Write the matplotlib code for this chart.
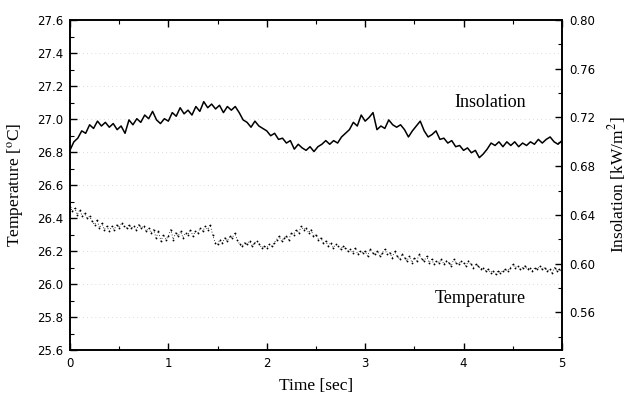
import numpy as np
import matplotlib
matplotlib.use("Agg")
from matplotlib import pyplot as plt
from matplotlib.ticker import MultipleLocator

# Insolation (kW/m2), sampled every 0.04 s
insolation = [
    0.693, 0.700, 0.703, 0.709, 0.707, 0.714, 0.711, 0.717, 0.713, 0.716,
    0.712, 0.715, 0.710, 0.713, 0.707, 0.718, 0.714, 0.719, 0.716, 0.722,
    0.719, 0.725, 0.718, 0.715, 0.719, 0.717, 0.724, 0.721, 0.728, 0.723,
    0.726, 0.722, 0.729, 0.725, 0.733, 0.728, 0.731, 0.727, 0.730, 0.724,
    0.729, 0.726, 0.729, 0.724, 0.718, 0.716, 0.712, 0.717, 0.713, 0.711,
    0.709, 0.705, 0.707, 0.702, 0.703, 0.699, 0.701, 0.694, 0.698, 0.695,
    0.693, 0.696, 0.692, 0.696, 0.698, 0.701, 0.698, 0.701, 0.699, 0.704,
    0.707, 0.710, 0.716, 0.713, 0.722, 0.717, 0.720, 0.724, 0.710, 0.713,
    0.711, 0.718, 0.714, 0.712, 0.714, 0.710, 0.704, 0.709, 0.713, 0.717,
    0.709, 0.704, 0.706, 0.709, 0.702, 0.703, 0.699, 0.701, 0.696, 0.697,
    0.693, 0.695, 0.691, 0.693, 0.687, 0.690, 0.694, 0.699, 0.697, 0.700,
    0.696, 0.700, 0.697, 0.700, 0.696, 0.699, 0.697, 0.700, 0.698, 0.702,
    0.699, 0.702, 0.704, 0.700, 0.698, 0.701,
]
t_ins = np.arange(len(insolation)) * 0.04

# Temperature (deg C), sampled every 0.025 s
temperature = [
    26.47, 26.44, 26.46, 26.42, 26.45, 26.41, 26.43, 26.40,
    26.41, 26.38, 26.36, 26.39, 26.34, 26.37, 26.33, 26.35,
    26.32, 26.35, 26.33, 26.36, 26.34, 26.37, 26.35, 26.34,
    26.36, 26.34, 26.35, 26.33, 26.36, 26.34, 26.35, 26.32,
    26.34, 26.31, 26.33, 26.28, 26.32, 26.26, 26.30, 26.27,
    26.29, 26.33, 26.27, 26.31, 26.29, 26.32, 26.28, 26.31,
    26.30, 26.33, 26.29, 26.32, 26.31, 26.34, 26.32, 26.35,
    26.33, 26.36, 26.30, 26.25, 26.24, 26.27, 26.25, 26.28,
    26.26, 26.29, 26.28, 26.31, 26.27, 26.24, 26.23, 26.25,
    26.24, 26.26, 26.23, 26.25, 26.26, 26.24, 26.22, 26.23,
    26.22, 26.24, 26.23, 26.25, 26.27, 26.29, 26.26, 26.28,
    26.29, 26.27, 26.31, 26.30, 26.33, 26.31, 26.35, 26.33,
    26.34, 26.31, 26.33, 26.29, 26.30, 26.27, 26.28, 26.25,
    26.26, 26.23, 26.25, 26.22, 26.24, 26.23, 26.21, 26.23,
    26.22, 26.20, 26.21, 26.19, 26.22, 26.18, 26.20, 26.19,
    26.20, 26.17, 26.21, 26.19, 26.18, 26.20, 26.17, 26.19,
    26.21, 26.18, 26.19, 26.16, 26.20, 26.17, 26.15, 26.18,
    26.16, 26.14, 26.17, 26.13, 26.16, 26.14, 26.18, 26.15,
    26.14, 26.17, 26.13, 26.15, 26.12, 26.14, 26.13, 26.15,
    26.12, 26.14, 26.13, 26.11, 26.15, 26.13, 26.12, 26.14,
    26.13, 26.11, 26.14, 26.12, 26.10, 26.12, 26.11, 26.09,
    26.10, 26.08, 26.09, 26.07, 26.08, 26.06, 26.08, 26.07,
    26.08, 26.09, 26.08, 26.10, 26.12, 26.10, 26.11, 26.09,
    26.10, 26.11, 26.09, 26.10, 26.08, 26.10, 26.09, 26.11,
    26.09, 26.10, 26.08, 26.09, 26.07, 26.10, 26.08, 26.09,
    26.07,
]
t_temp = np.arange(len(temperature)) * 0.025

plt.rcParams["mathtext.fontset"] = "stix"
serif = "Liberation Serif"
sans = "DejaVu Sans"

fig = plt.figure(figsize=(6.3, 4.01), dpi=100)
ax = fig.add_axes([0.111, 0.127, 0.781, 0.823])
ax2 = ax.twinx()

# faint dotted grid at temperature ticks
for y in np.arange(25.8, 27.5, 0.2):
    ax.axhline(y, color="#d0d0d0", lw=0.6, ls=(0, (1, 4)), zorder=0)

ax.plot(t_temp, temperature, color="black", ls="none", marker="o", ms=1.3,
        mew=0)
ax.plot(t_temp, temperature, color="black", lw=0.6, ls=(0, (1, 2.5)))
ax2.plot(t_ins, insolation, color="black", lw=1.1)

ax.set_xlim(0, 5)
ax.set_ylim(25.6, 27.6)
ax2.set_ylim(0.529, 0.80)

ax.xaxis.set_major_locator(MultipleLocator(1))
ax.xaxis.set_minor_locator(MultipleLocator(0.5))
ax.yaxis.set_major_locator(MultipleLocator(0.2))
ax.yaxis.set_minor_locator(MultipleLocator(0.1))
ax2.yaxis.set_major_locator(MultipleLocator(0.04))
ax2.yaxis.set_minor_locator(MultipleLocator(0.02))
ax.yaxis.set_major_formatter(plt.FormatStrFormatter("%.1f"))
ax2.yaxis.set_major_formatter(plt.FormatStrFormatter("%.2f"))

ax.tick_params(axis="x", which="both", direction="in", top=True, bottom=True)
ax.tick_params(axis="y", which="both", direction="in", left=True, right=False)
ax.tick_params(which="major", length=5, width=1.0, labelsize=8.5, pad=5)
ax.tick_params(which="minor", length=3, width=0.8)
ax2.tick_params(which="both", direction="in")
ax2.tick_params(which="major", length=5, width=1.0, labelsize=8.5, pad=5)
ax2.tick_params(which="minor", length=3, width=0.8)
for lab in ax.get_xticklabels() + ax.get_yticklabels() + ax2.get_yticklabels():
    lab.set_fontfamily(sans)

for a in (ax, ax2):
    for s in a.spines.values():
        s.set_linewidth(1.2)

ax.set_xlabel("Time [sec]", family=serif, fontsize=12.5, labelpad=6)
ax.set_ylabel("Temperature [$^{\\rm o}$C]", family=serif, fontsize=12.5, labelpad=8)
ax2.set_ylabel("Insolation [kW/m$^2$]", family=serif, fontsize=12.5, labelpad=8)

ax.text(4.27, 27.10, "Insolation", family=serif, fontsize=13, ha="center", va="center")
ax.text(4.17, 25.91, "Temperature", family=serif, fontsize=13, ha="center", va="center")

fig.savefig("out.png", dpi=100)
